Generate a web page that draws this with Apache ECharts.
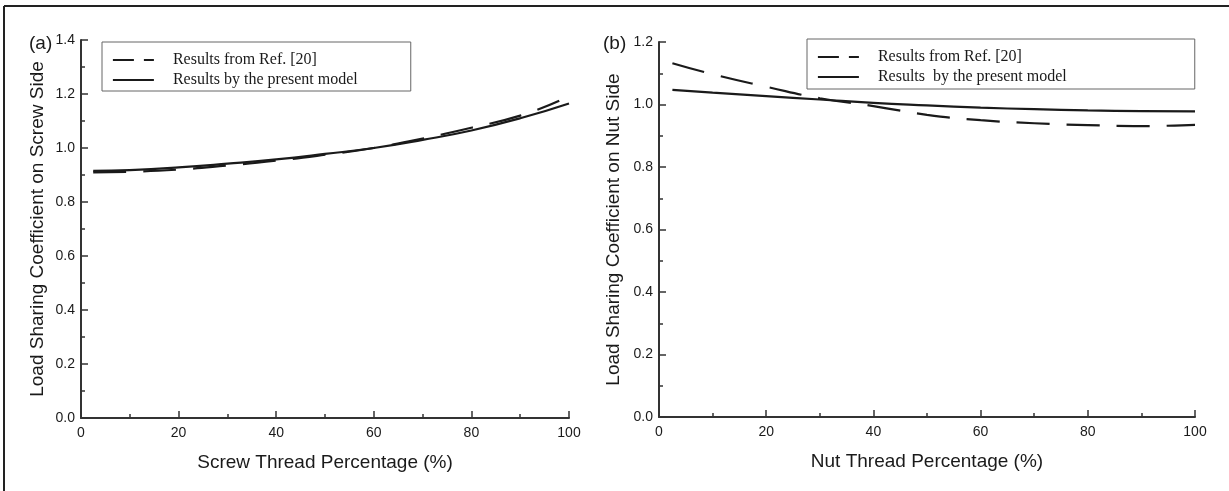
<!DOCTYPE html>
<html>
<head>
<meta charset="utf-8">
<script src="https://cdn.jsdelivr.net/npm/echarts@6/dist/echarts.min.js"></script>
<style>
html,body{margin:0;padding:0;background:#fff;}
#chart{width:1229px;height:491px;}
</style>
</head>
<body>
<div id="chart"></div>
<script>
// ---- data ----
const screwX = [2.5, 10, 20, 30, 40, 50, 60, 70, 80, 90, 100];
const screwRefX = [2.5, 10, 20, 30, 40, 50, 60, 70, 80, 90, 98];
const screwRef = [0.910, 0.912, 0.920, 0.935, 0.953, 0.975, 1.000, 1.035, 1.075, 1.120, 1.175];
const screwModel = [0.915, 0.918, 0.928, 0.942, 0.958, 0.978, 1.000, 1.030, 1.065, 1.110, 1.165];
const nutX = [2.5, 10, 20, 30, 40, 50, 60, 70, 80, 90, 100];
const nutRef = [1.132, 1.097, 1.057, 1.020, 0.995, 0.967, 0.950, 0.940, 0.934, 0.931, 0.935];
const nutModel = [1.047, 1.038, 1.027, 1.016, 1.005, 0.997, 0.990, 0.985, 0.981, 0.979, 0.978];
const refName = 'Results from Ref. [20]';
const modelNameA = 'Results by the present model';
const modelNameB = 'Results  by the present model';

function pairs(xs, ys) { return xs.map((x, i) => [x, ys[i]]); }

const chart = echarts.init(document.getElementById('chart'));
const sans = 'Liberation Sans, Arial, sans-serif';
const serif = 'Liberation Serif, Times New Roman, serif';
const ink = '#1a1a1a';

function xAxisCfg(idx, name) {
  return {
    type: 'value', gridIndex: idx, min: 0, max: 100, interval: 20,
    name: name, nameLocation: 'middle', nameGap: 35,
    nameTextStyle: { fontFamily: sans, fontSize: 19, color: ink },
    axisLine: { show: true, onZero: false, lineStyle: { color: '#333', width: 2 } },
    axisTick: { show: true, inside: true, length: 7, lineStyle: { color: '#333', width: 1.5 } },
    minorTick: { show: true, splitNumber: 2, length: 4, lineStyle: { color: '#333', width: 1.5 } },
    axisLabel: { fontFamily: sans, fontSize: 14, color: ink, margin: 8, showMaxLabel: true, showMinLabel: true },
    splitLine: { show: false }
  };
}
function yAxisCfg(idx, name, max, gap) {
  return {
    type: 'value', gridIndex: idx, min: 0, max: max, interval: 0.2,
    name: name, nameLocation: 'middle', nameGap: gap,
    nameTextStyle: { fontFamily: sans, fontSize: 19, color: ink },
    axisLine: { show: true, onZero: false, lineStyle: { color: '#333', width: 2 } },
    axisTick: { show: true, inside: true, length: 7, lineStyle: { color: '#333', width: 1.5 } },
    minorTick: { show: true, splitNumber: 2, length: 4, lineStyle: { color: '#333', width: 1.5 } },
    axisLabel: { fontFamily: sans, fontSize: 14, color: ink, margin: 6, formatter: v => v.toFixed(1) },
    splitLine: { show: false }
  };
}
const noSymbol = { color: 'rgba(0,0,0,0)', borderWidth: 0, opacity: 0 };
function legendCfg(left, top, padding, names) {
  return {
    left: left, top: top, orient: 'vertical',
    padding: padding, itemGap: 4,
    itemWidth: 41, itemHeight: 14,
    borderColor: '#666', borderWidth: 1, backgroundColor: '#fff',
    textStyle: { fontFamily: serif, fontSize: 16, color: ink, padding: [0, 0, 0, 14] },
    data: [
      { name: names[0], itemStyle: noSymbol, lineStyle: { type: [21, 10], width: 1.8, color: ink } },
      { name: names[1], itemStyle: noSymbol, lineStyle: { type: 'solid', width: 1.8, color: ink } }
    ]
  };
}
function lineSeries(name, xi, yi, data, dashed) {
  return {
    type: 'line', name: name, xAxisIndex: xi, yAxisIndex: yi,
    data: data, smooth: true, showSymbol: false, symbol: 'none',
    lineStyle: { color: ink, width: 2.2, type: dashed ? [33, 17] : 'solid' },
    itemStyle: { color: ink },
    z: dashed ? 3 : 4
  };
}

chart.setOption({
  animation: false,
  backgroundColor: '#fff',
  title: [
    { text: '(a)', left: 24, top: 29, textStyle: { fontFamily: sans, fontSize: 19, fontWeight: 'normal', color: ink } },
    { text: '(b)', left: 598, top: 29, textStyle: { fontFamily: sans, fontSize: 19, fontWeight: 'normal', color: ink } }
  ],
  grid: [
    { left: 81, right: 660, top: 40, bottom: 73 },
    { left: 659, right: 34, top: 42, bottom: 74 }
  ],
  xAxis: [
    xAxisCfg(0, 'Screw Thread Percentage (%)'),
    xAxisCfg(1, 'Nut Thread Percentage (%)')
  ],
  yAxis: [
    yAxisCfg(0, 'Load Sharing Coefficient on Screw Side', 1.4, 34),
    yAxisCfg(1, 'Load Sharing Coefficient on Nut Side', 1.2, 36)
  ],
  legend: [
    legendCfg(102, 42, [10, 53, 3, 10], [refName, modelNameA]),
    legendCfg(807, 39, [10, 128, 4, 10], [refName + ' ', modelNameB])
  ],
  series: [
    lineSeries(refName, 0, 0, pairs(screwRefX, screwRef), true),
    lineSeries(modelNameA, 0, 0, pairs(screwX, screwModel), false),
    lineSeries(refName + ' ', 1, 1, pairs(nutX, nutRef), true),
    lineSeries(modelNameB, 1, 1, pairs(nutX, nutModel), false)
  ],
  graphic: [
    { type: 'line', shape: { x1: 4, y1: 6, x2: 1229, y2: 6 }, style: { stroke: '#222', lineWidth: 2 } },
    { type: 'line', shape: { x1: 4, y1: 6, x2: 4, y2: 491 }, style: { stroke: '#222', lineWidth: 2 } }
  ]
});
</script>
</body>
</html>
